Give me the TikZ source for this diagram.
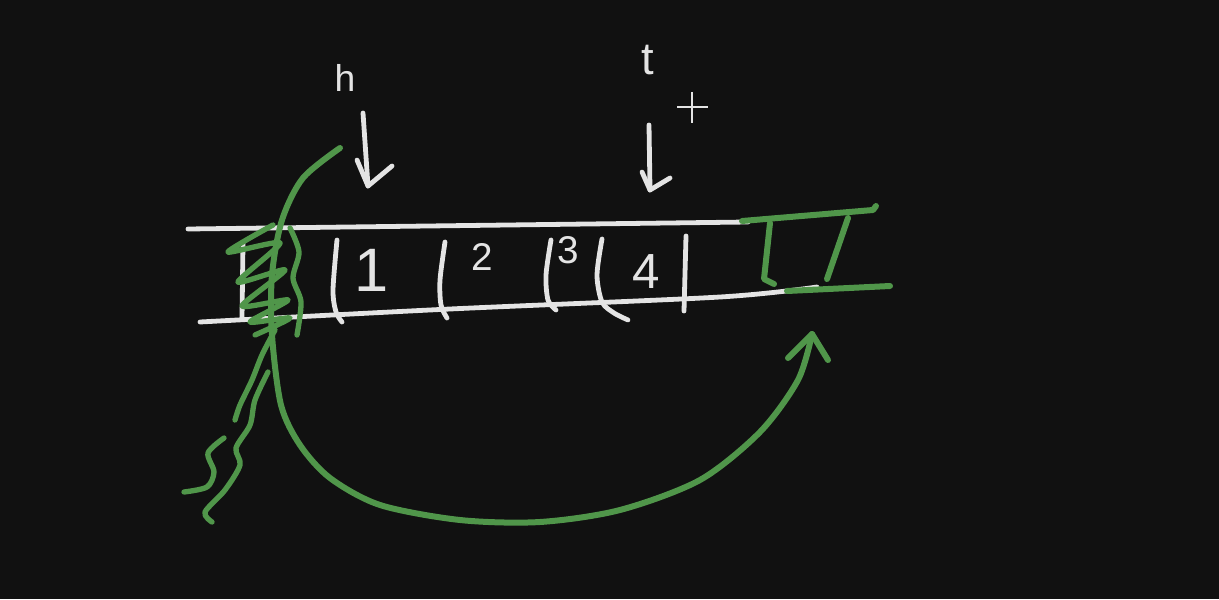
\documentclass[tikz,border=0pt]{standalone}
\usepackage{fontspec}
\setmainfont{Liberation Sans}

\definecolor{board}{RGB}{17,17,17}
\definecolor{chalkwhite}{RGB}{228,228,228}
\definecolor{pengreen}{RGB}{80,150,74}

\tikzset{every picture/.style={line width=0.75pt}}
\tikzset{
  chalk/.style={draw=chalkwhite, line width=3.6pt, line cap=round, line join=round},
  pen/.style={draw=pengreen, line width=4.5pt, line cap=round, line join=round},
  scrawl/.style={text=chalkwhite, inner sep=0.75pt}
}

\begin{document}
\begin{tikzpicture}[x=0.75pt,y=0.75pt,yscale=-1,xscale=1]
	\useasboundingbox (0,0) rectangle (1219,599);
	\fill[board] (0,0) rectangle (1219,599);
	
	%Straight Lines [id:top rail]
	\draw[chalk] (188,229) -- (748,222) ;
	%Curve Lines [id:bottom rail]
	\draw[chalk] plot[smooth] coordinates {(200,322) (450,309) (720,297) (817,287)} ;
	
	%Curve Lines [id:cell walls]
	\draw[chalk] (243,243) -- (242,318) ;
	\draw[chalk] plot[smooth] coordinates {(337,240) (333,290) (336,312) (342,322)} ;
	\draw[chalk] plot[smooth] coordinates {(445,242) (440,280) (441,305) (447,318)} ;
	\draw[chalk] plot[smooth] coordinates {(551,240) (546,275) (548,300) (556,310)} ;
	\draw[chalk] plot[smooth] coordinates {(602,239) (597,275) (602,302) (614,313) (628,320)} ;
	\draw[chalk] (686,236) -- (684,311) ;
	
	% Text Node
	\draw (372,270) node (one) [scrawl] {\fontsize{46}{46}\selectfont 1};
	% Text Node
	\draw (482,257) node (two) [scrawl] {\fontsize{29}{29}\selectfont 2};
	% Text Node
	\draw (568,250) node (three) [scrawl] {\fontsize{29}{29}\selectfont 3};
	% Text Node
	\draw (646,272) node (four) [scrawl] {\fontsize{37}{37}\selectfont 4};
	% Text Node
	\draw (345,78) node (head) [scrawl] {\fontsize{28}{28}\selectfont h};
	% Text Node
	\draw (648,60) node (tail) [scrawl] {\fontsize{34}{34}\selectfont t};
	
	%Arrows [id:head pointer]
	\coordinate (hfrom) at (363,113);
	\coordinate (hto) at (368,186);
	\draw[chalk] (hfrom) -- (hto) ;
	\draw[chalk] (357,160) -- (hto) -- (392,166) ;
	%Arrows [id:tail pointer]
	\coordinate (tfrom) at (649,125);
	\coordinate (tto) at (650,190);
	\draw[chalk] (tfrom) -- (tto) ;
	\draw[chalk] (642,172) -- (tto) -- (670,178) ;
	
	%Cursor
	\draw[chalkwhite, line width=2pt] (677,107) -- (708,107) (692,92) -- (692,123) ;
	
	%Shape: new cell
	\draw[pen] (742,221) -- (873,210) -- (876,206) ;
	\draw[pen] (770,223) -- (764,279) -- (774,284) ;
	\draw[pen] (848,218) -- (827,279) ;
	\draw[pen] (787,291) -- (890,286) ;
	
	%Scribble over cell 0
	\draw[pen, line width=4pt] plot[smooth, tension=0.4] coordinates {(273,225) (228,252) (280,243) (238,282) (285,270) (242,306) (288,300) (250,322) (290,318) (255,335)} ;
	\draw[pen, line width=4pt] plot[smooth] coordinates {(290,228) (299,252) (293,278) (301,302) (297,335)} ;
	\draw[pen, line width=4pt] plot[smooth] coordinates {(275,330) (262,355) (252,380) (240,405) (235,420)} ;
	\draw[pen, line width=4pt] plot[smooth] coordinates {(268,372) (255,400) (250,425) (236,448) (240,465) (225,490) (205,512) (212,522)} ;
	\draw[pen, line width=4pt] plot[smooth] coordinates {(224,438) (208,453) (214,472) (207,487) (184,492)} ;
	
	%Curve Lines [id:wrap around]
	\coordinate (wrapfrom) at (340,148);
	\coordinate (wrapto) at (812,334);
	\draw[pen] plot[smooth] coordinates {(wrapfrom) (303,178) (282,220) (272,275) (272,335) (281,405) (300,445) (330,478) (380,505) (460,520) (540,522) (620,510) (700,480) (760,432) (798,380) (wrapto)} ;
	\draw[pen] (788,358) -- (wrapto) -- (828,360) ;
	
\end{tikzpicture}
\end{document}
